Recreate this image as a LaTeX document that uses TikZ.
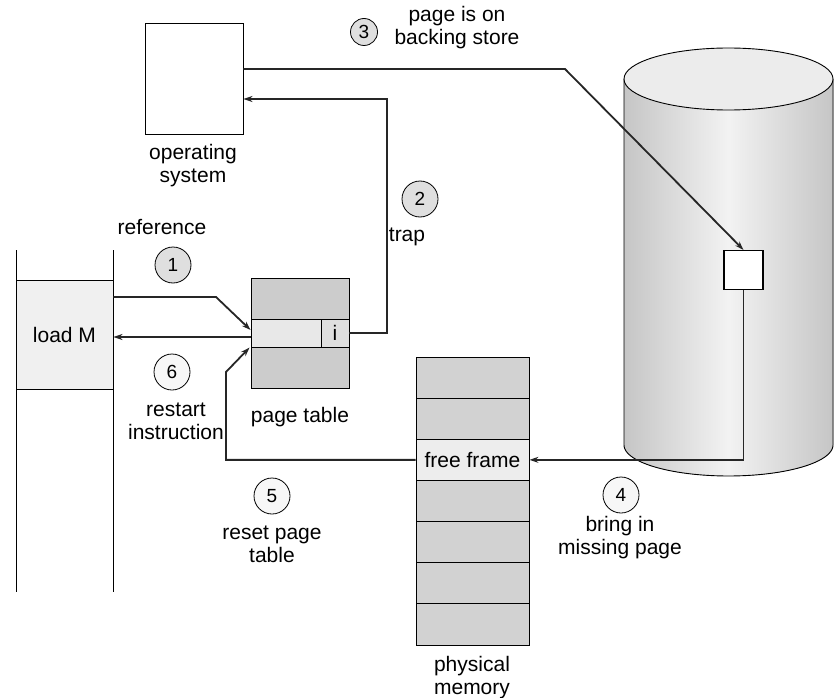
\documentclass[tikz,border=0pt]{standalone}
\usepackage{fontspec}
\setmainfont{Liberation Sans}
\usetikzlibrary{arrows.meta,calc}
\begin{document}
\begin{tikzpicture}[x=1pt,y=-1pt,
  every node/.style={font=\fontsize{21}{23}\selectfont, inner sep=0pt},
  lbl/.style={align=center},
  boxline/.style={draw, line width=0.9pt},
  conn/.style={line width=1.8pt, draw=black!85},
  arr/.style={conn, -{Stealth[length=9pt,width=6pt]}},
  num/.style={circle, draw, line width=0.8pt, minimum size=36pt, fill=gray!6, font=\fontsize{19}{19}\selectfont},
  numdark/.style={num, fill=gray!25}
]
\useasboundingbox (0,0) rectangle (835,698);

% cylinder (backing store)
\fill[left color=gray!45, right color=gray!45, middle color=gray!10]
  (624,79) -- (624,445) -- plot[domain=180:360, samples=60] ({728.5+104.5*cos(\x)}, {445-31*sin(\x)}) -- (833,79) -- cycle;
\draw[line width=0.9pt]
  (624,79) -- (624,445) plot[domain=180:360, samples=60] ({728.5+104.5*cos(\x)}, {445-31*sin(\x)}) -- (833,79);
\draw[line width=0.9pt, fill=gray!15] (728.5,79) ellipse [x radius=104.5, y radius=31];
\node[boxline, fill=white, line width=1.2pt, minimum size=39pt] (sq) at (743.5,270) {};

% operating system
\node[boxline, fill=white, minimum width=98pt, minimum height=111pt] (os) at (194,78.5) {};
\node[lbl] (oslbl) at (193,166) {operating\\system};

% program column
\node[boxline, fill=gray!12, minimum width=97pt, minimum height=109pt] (loadm) at (64.5,334.5) {load M};
\draw[line width=0.9pt] (16,250) -- (16,592) (113,250) -- (113,592);

% page table
\node[boxline, fill=gray!40, minimum width=98pt, minimum height=41pt] (pttop) at (300,298.5) {};
\node[boxline, fill=gray!18, minimum width=98pt, minimum height=28pt] (ptmid) at (300,333) {};
\node[boxline, fill=gray!40, minimum width=98pt, minimum height=41pt] (ptbot) at (300,367.5) {};
\node[boxline, fill=gray!25, minimum width=28pt, minimum height=28pt] (icell) at (335,333) {i};
\node (ptlbl) at (300,417) {page table};

% physical memory
\foreach \i in {0,1,3,4,5,6} {
  \node[boxline, fill=gray!35, minimum width=113pt, minimum height=41.14pt] (pm\i) at (472.5,{377.57+41.14*\i}) {};
}
\node[boxline, fill=gray!14, minimum width=113pt, minimum height=41.14pt] (pm2) at (472.5,459.85) {free frame};
\node[lbl] (pmlbl) at (472,678) {physical\\memory};

% step circles
\node[numdark] (c1) at (173,265) {1};
\node[numdark] (c2) at (420,199) {2};
\node[numdark, minimum size=27pt] (c3) at (364,32) {3};
\node[num] (c4) at (621,495) {4};
\node[num] (c5) at (272,496) {5};
\node[num] (c6) at (172,372) {6};

% labels
\node (lref) at (162,227) {reference};
\node (ltrap) at (407,237) {trap};
\node[lbl] (lback) at (457,28) {page is on\\backing store};
\node[lbl] (lrestart) at (176,421) {restart\\instruction};
\node[lbl] (lreset) at (272,544) {reset page\\table};
\node[lbl] (lbring) at (620,538) {bring in\\missing page};

% connectors
\coordinate (k1) at (216,297);
\draw[arr] ([yshift=37.5pt]loadm.east) -- (k1) -- ([yshift=3pt]ptmid.west);
\draw[arr] ([yshift=-4pt]ptmid.west) -- ([yshift=-4pt]ptmid.west -| loadm.east);
\coordinate (k2) at (387,99);
\draw[arr] (icell.east) -| (k2) -- (k2 -| os.east);
\coordinate (k3) at (565,69);
\draw[arr] ([yshift=9.5pt]os.east) -- (k3) -- (sq.north);
\draw[arr] (sq.south) |- (pm2.east);
\coordinate (k5) at (226,372);
\draw[arr] (pm2.west) -| (k5) -- ([xshift=-1pt,yshift=-1pt]ptbot.north west);
\end{tikzpicture}
\end{document}
